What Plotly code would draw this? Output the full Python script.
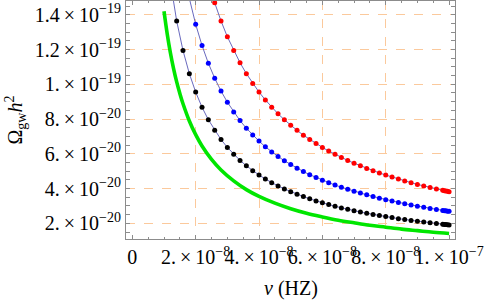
import plotly.graph_objects as go

# ---- data (nu in units of 1e-8 Hz, Omega in units of 1e-20) ----
NU_UNIT = 1e-8
OM_UNIT = 1e-20

nu_pts = [1.2, 1.4, 1.6, 1.8, 2.0, 2.2, 2.4, 2.6, 2.8, 3.0, 3.2, 3.4, 3.6, 3.8, 4.0,
          4.2, 4.4, 4.6, 4.8, 5.0, 5.2, 5.4, 5.6, 5.8, 6.0, 6.2, 6.4, 6.6, 6.8, 7.0,
          7.2, 7.4, 7.6, 7.8, 8.0, 8.2, 8.4, 8.6, 8.8, 9.0, 9.2, 9.4, 9.6, 9.8, 9.85,
          9.9, 9.95, 10.0]

omega_black = [15.92, 13.64, 11.94, 10.61, 9.55, 8.68, 7.96, 7.35, 6.82, 6.37, 5.97, 5.62,
               5.31, 5.03, 4.78, 4.55, 4.34, 4.15, 3.98, 3.82, 3.67, 3.54, 3.41, 3.29, 3.18,
               3.08, 2.98, 2.89, 2.81, 2.73, 2.65, 2.58, 2.51, 2.45, 2.39, 2.33, 2.27, 2.22,
               2.17, 2.12, 2.08, 2.03, 1.99, 1.95, 1.94, 1.93, 1.92, 1.91]

omega_blue = [22.42, 19.21, 16.81, 14.94, 13.45, 12.23, 11.21, 10.35, 9.61, 8.97, 8.41, 7.91,
              7.47, 7.08, 6.73, 6.40, 6.11, 5.85, 5.60, 5.38, 5.17, 4.98, 4.80, 4.64, 4.48,
              4.34, 4.20, 4.08, 3.96, 3.84, 3.74, 3.64, 3.54, 3.45, 3.36, 3.28, 3.20, 3.13,
              3.06, 2.99, 2.92, 2.86, 2.80, 2.74, 2.73, 2.72, 2.70, 2.69]

omega_red = [31.83, 27.29, 23.88, 21.22, 19.10, 17.36, 15.92, 14.69, 13.64, 12.73, 11.94, 11.24,
             10.61, 10.05, 9.55, 9.10, 8.68, 8.30, 7.96, 7.64, 7.35, 7.07, 6.82, 6.59, 6.37,
             6.16, 5.97, 5.79, 5.62, 5.46, 5.31, 5.16, 5.03, 4.90, 4.78, 4.66, 4.55, 4.44,
             4.34, 4.24, 4.15, 4.06, 3.98, 3.90, 3.88, 3.86, 3.84, 3.82]

nu_green = [1.0, 1.1, 1.2, 1.3, 1.4, 1.5, 1.6, 1.8, 2.0, 2.2, 2.5, 2.8, 3.2, 3.6, 4.0, 4.5,
            5.0, 5.5, 6.0, 6.5, 7.0, 7.5, 8.0, 8.5, 9.0, 9.5, 10.0]
omega_green = [14.20, 12.91, 11.83, 10.92, 10.14, 9.47, 8.88, 7.89, 7.10, 6.45, 5.68, 5.07,
               4.44, 3.94, 3.55, 3.16, 2.84, 2.58, 2.37, 2.18, 2.03, 1.89, 1.78, 1.67, 1.58,
               1.49, 1.42]

TS = "\u2009"  # thin space around the multiplication sign
x_tick_vals = [0, 2e-8, 4e-8, 6e-8, 8e-8, 1e-7]
x_tick_text = ["0"] + [f"{m}.{TS}×{TS}10<sup>−{e}</sup>" for m, e in
                       [("2", 8), ("4", 8), ("6", 8), ("8", 8), ("1", 7)]]
x_grid_vals = [2e-8, 4e-8, 6e-8, 8e-8]
y_tick_vals = [2e-20, 4e-20, 6e-20, 8e-20, 1e-19, 1.2e-19, 1.4e-19]
y_tick_text = [f"{m}{TS}×{TS}10<sup>−{e}</sup>" for m, e in
               [("2.", 20), ("4.", 20), ("6.", 20), ("8.", 20), ("1.", 19), ("1.2", 19),
                ("1.4", 19)]]

X_RANGE = [-2.0e-9, 1.0187e-7]
Y_RANGE = [1.1e-20, 1.479e-19]

FONT = "Liberation Serif"
FRAME = "#8c8c8c"
GRID = "#fbc99c"
CONNECT = "rgb(105,105,190)"
FS = 20

fig = go.Figure()

nu_g = [v * NU_UNIT for v in nu_green]
fig.add_trace(go.Scatter(x=nu_g, y=[v * OM_UNIT for v in omega_green], mode="lines",
                         line=dict(color="#00e600", width=3.6, shape="spline"),
                         showlegend=False, hoverinfo="skip"))

nu_x = [v * NU_UNIT for v in nu_pts]
for vals, col in [(omega_black, "black"), (omega_blue, "#0000ff"), (omega_red, "#ff0000")]:
    fig.add_trace(go.Scatter(x=nu_x, y=[v * OM_UNIT for v in vals], mode="lines+markers",
                             line=dict(color=CONNECT, width=1),
                             marker=dict(color=col, size=5),
                             showlegend=False, hoverinfo="skip"))

# empty trace to anchor the grid-only overlay axis
fig.add_trace(go.Scatter(x=[], y=[], xaxis="x2", yaxis="y", showlegend=False))

fig.update_layout(
    width=485, height=305,
    margin=dict(l=126, r=30, t=1, b=66),
    paper_bgcolor="white", plot_bgcolor="white",
    font=dict(family=FONT, size=FS, color="black"),
    xaxis=dict(range=X_RANGE, tickmode="array", tickvals=x_tick_vals, ticktext=x_tick_text,
               automargin=False, tickangle=0,
               showgrid=False, zeroline=False, showline=True, linecolor=FRAME, linewidth=1,
               mirror="allticks", ticks="inside", ticklen=4, tickcolor=FRAME,
               minor=dict(ticks="inside", ticklen=2, tickcolor=FRAME, dtick=0.5e-8, tick0=0,
                          showgrid=False),
               tickfont=dict(family=FONT, size=FS, color="black")),
    xaxis2=dict(range=X_RANGE, overlaying="x", anchor="y", tickmode="array",
                tickvals=x_grid_vals, showticklabels=False, ticks="", showline=False,
                automargin=False,
                zeroline=False, showgrid=True, gridcolor=GRID, griddash="dash", gridwidth=1),
    yaxis=dict(range=Y_RANGE, tickmode="array", tickvals=y_tick_vals, ticktext=y_tick_text,
               automargin=False,
               showgrid=True, gridcolor=GRID, griddash="dash", gridwidth=1,
               zeroline=False, showline=True, linecolor=FRAME, linewidth=1,
               mirror="allticks", ticks="inside", ticklen=4, tickcolor=FRAME,
               minor=dict(ticks="inside", ticklen=2, tickcolor=FRAME, dtick=0.5e-20, tick0=0,
                          showgrid=False),
               tickfont=dict(family=FONT, size=FS, color="black"),
               title=dict(text="Ω<sub>gw</sub><i>h</i><sup>2</sup>",
                          font=dict(family=FONT, size=FS), standoff=6)),
    annotations=[dict(text="<i>ν</i> (HZ)", xref="paper", yref="paper", x=0.5, y=-0.265,
                      xanchor="center", yanchor="bottom", showarrow=False,
                      font=dict(family=FONT, size=FS, color="black"))],
)

fig.write_html("out.html", config={"displayModeBar": False},
               post_script="document.body.style.margin='0px';document.body.style.overflow='hidden';")
